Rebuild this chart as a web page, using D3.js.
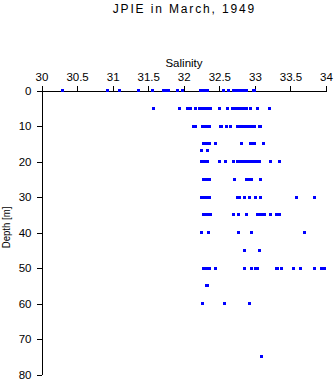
<!DOCTYPE html>
<html>
<head>
<meta charset="utf-8">
<script src="https://cdn.jsdelivr.net/npm/d3@7"></script>
<style>
  html, body { margin: 0; padding: 0; background: #fff; }
  svg { display: block; font-family: "Liberation Sans", Arial, sans-serif; }
</style>
</head>
<body>
<svg id="chart" width="335" height="384"></svg>
<script>
// ---- Data (salinity readings per sampling depth) ----
const title = "JPIE in March, 1949";
const xLabel = "Salinity";
const yLabel = "Depth [m]";
const xTicks = [30, 30.5, 31, 31.5, 32, 32.5, 33, 33.5, 34];
const xTickLabels = ["30", "30.5", "31", "31.5", "32", "32.5", "33", "33.5", "34"];
const yTicks = [0, 10, 20, 30, 40, 50, 60, 70, 80];

const depths = [0, 5, 10, 15, 17, 20, 25, 30, 35, 40, 45, 50, 55, 60, 75];
const sal0  = [30.30, 30.93, 31.09, 31.37, 31.56, 31.72, 31.75, 31.78, 31.91, 31.98,
               32.24, 32.26, 32.29, 32.31, 32.34, 32.56, 32.63, 32.70, 32.72, 32.75,
               32.78, 32.80, 32.83, 32.85, 32.88, 32.98, 33.00];
const sal5  = [31.58, 31.94, 32.05, 32.09, 32.16, 32.22, 32.25, 32.28, 32.31, 32.33,
               32.35, 32.37, 32.50, 32.61, 32.69, 32.72, 32.75, 32.78, 32.80, 32.83,
               32.85, 32.88, 32.94, 33.04, 33.21];
const sal10 = [32.14, 32.16, 32.26, 32.28, 32.31, 32.33, 32.36, 32.51, 32.53, 32.60,
               32.66, 32.75, 32.77, 32.80, 32.83, 32.86, 32.89, 32.91, 32.94, 32.97,
               33.00, 33.06, 33.08];
const sal15 = [32.28, 32.30, 32.33, 32.36, 32.45, 32.81, 32.94, 32.97, 32.99, 33.12];
const sal17 = [32.25, 32.34];
const sal20 = [32.25, 32.28, 32.30, 32.34, 32.50, 32.58, 32.70, 32.76, 32.79, 32.82,
               32.85, 32.87, 32.90, 32.93, 32.96, 32.99, 33.02, 33.06, 33.22, 33.35];
const sal25 = [32.28, 32.31, 32.34, 32.36, 32.72, 32.88, 32.92, 32.95, 33.08];
const sal30 = [32.25, 32.28, 32.31, 32.34, 32.36, 32.75, 32.79, 32.86, 32.93, 33.01,
               33.08, 33.59, 33.84];
const sal35 = [32.28, 32.31, 32.34, 32.37, 32.70, 32.77, 32.88, 33.04, 33.07, 33.10,
               33.14, 33.22, 33.31, 33.35];
const sal40 = [32.25, 32.35, 32.77, 32.95, 33.70];
const sal45 = [32.85, 33.06];
const sal50 = [32.28, 32.30, 32.33, 32.36, 32.45, 32.85, 32.95, 33.01, 33.04, 33.30,
               33.32, 33.37, 33.55, 33.64, 33.84, 33.94, 33.98];
const sal55 = [32.32, 32.34];
const sal60 = [32.27, 32.57, 32.92];
const sal75 = [33.10];

const salinityByDepth = [sal0, sal5, sal10, sal15, sal17, sal20, sal25, sal30,
                         sal35, sal40, sal45, sal50, sal55, sal60, sal75];

// Build point table from the arrays
const points = [];
depths.forEach((d, i) => salinityByDepth[i].forEach(s => points.push({depth: d, sal: s})));

// ---- Drawing ----
const svg = d3.select("#chart");
const x = d3.scaleLinear().domain([30, 34]).range([41.5, 326]);
const y = d3.scaleLinear().domain([0, 80]).range([90.5, 374.5]);

// Title
svg.append("text")
  .attr("x", 183.5).attr("y", 13.3)
  .attr("text-anchor", "middle")
  .attr("font-size", 12)
  .attr("textLength", 141.6)
  .attr("fill", "#000")
  .text(title);

// X axis (top)
const xAxis = d3.axisTop(x)
  .tickValues(xTicks)
  .tickFormat((d, i) => xTickLabels[i])
  .tickSize(5)
  .tickSizeOuter(0)
  .tickPadding(5);

const gx = svg.append("g")
  .attr("transform", "translate(0,90.5)")
  .call(xAxis);
gx.selectAll("text").attr("font-size", 11.5).attr("fill", "#000")
  .attr("font-family", "Liberation Sans, Arial, sans-serif");
gx.selectAll("line, path").attr("stroke", "#000").attr("shape-rendering", "crispEdges");

// X label
svg.append("text")
  .attr("x", 184).attr("y", 66.5)
  .attr("text-anchor", "middle")
  .attr("font-size", 11.5)
  .attr("fill", "#000")
  .text(xLabel);

// Y axis (left)
const yAxis = d3.axisLeft(y)
  .tickValues(yTicks)
  .tickSize(5)
  .tickSizeOuter(0)
  .tickPadding(5);

const gy = svg.append("g")
  .attr("transform", "translate(41.5,0)")
  .call(yAxis);
gy.selectAll("text").attr("font-size", 11.5).attr("fill", "#000")
  .attr("font-family", "Liberation Sans, Arial, sans-serif");
gy.selectAll("line, path").attr("stroke", "#000").attr("shape-rendering", "crispEdges");

// Y label
svg.append("text")
  .attr("transform", "translate(9.6,227.5) rotate(-90)")
  .attr("text-anchor", "middle")
  .attr("font-size", 11)
  .attr("textLength", 41.6)
  .attr("lengthAdjust", "spacingAndGlyphs")
  .attr("fill", "#000")
  .text(yLabel);

// Points
svg.append("g")
  .selectAll("rect")
  .data(points)
  .join("rect")
  .attr("x", d => Math.round(x(d.sal) - 1.5))
  .attr("y", d => Math.round(y(d.depth) - 1.5))
  .attr("width", 3)
  .attr("height", 3)
  .attr("fill", "#0000ff")
  .attr("shape-rendering", "crispEdges");
</script>
</body>
</html>
